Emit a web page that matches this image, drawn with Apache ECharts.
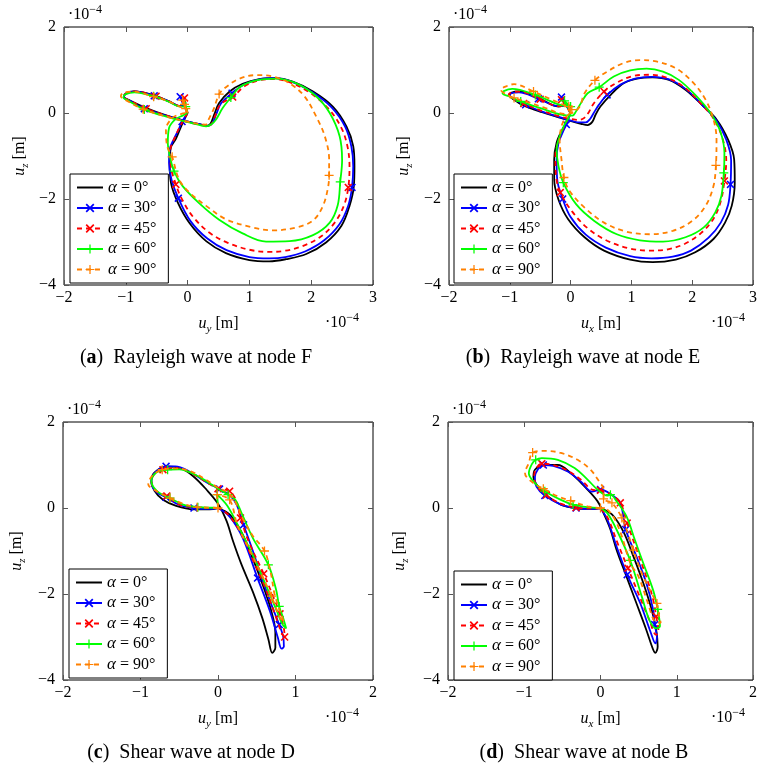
<!DOCTYPE html>
<html><head><meta charset="utf-8">
<script src="https://cdn.jsdelivr.net/npm/echarts@6/dist/echarts.min.js"></script>
<style>html,body{margin:0;padding:0;background:#fff}#c{width:760px;height:771px}</style>
</head><body><div id="c"></div>
<script>
// ---------- data (units of 1e-4 m); third element 1 = marker drawn at that sample ----------
const seriesNames = ['α = 0°', 'α = 30°', 'α = 45°', 'α = 60°', 'α = 90°'];
const xTicksAB = [-2, -1, 0, 1, 2, 3];
const xTicksCD = [-2, -1, 0, 1, 2];
const yTicks = [-4, -2, 0, 2];

// (a) Rayleigh wave at node F
const aBlack = [[0,0],[-0.06,0.2],[-0.1,0.36],[-0.07,0.22],[-0.12,0.16],[-0.3,0.27],[-0.57,0.42],[-0.86,0.5],[-1.0,0.45],[-1.03,0.37],[-0.95,0.3],[-0.68,0.12],[-0.3,-0.08],[-0.03,-0.19],[0.22,-0.27],[0.31,-0.3],[0.37,-0.25],[0.43,-0.04],[0.51,0.23],[0.68,0.5],[0.89,0.68],[1.16,0.79],[1.41,0.81],[1.7,0.73],[2.03,0.5],[2.35,0.15],[2.57,-0.31],[2.68,-0.77],[2.7,-1.23],[2.69,-1.7],[2.62,-2.16],[2.49,-2.62],[2.24,-3.01],[1.92,-3.28],[1.59,-3.4],[1.32,-3.45],[1.0,-3.42],[0.62,-3.26],[0.3,-2.98],[0.03,-2.56],[-0.16,-2.08],[-0.27,-1.62],[-0.29,-1.16],[-0.27,-0.8],[-0.19,-0.6],[-0.13,-0.4],[-0.07,-0.2],[0,0]];
const aBlue = [[0,0],[-0.07,0.2],[-0.12,0.38,1],[-0.08,0.22],[-0.13,0.16],[-0.3,0.27],[-0.54,0.4,1],[-0.86,0.5],[-1.0,0.45],[-1.03,0.37],[-0.95,0.3],[-0.7,0.1,1],[-0.3,-0.08],[-0.03,-0.19],[0.22,-0.27],[0.33,-0.3],[0.4,-0.24],[0.46,-0.04],[0.54,0.22],[0.72,0.46,1],[0.92,0.67],[1.18,0.79],[1.41,0.81],[1.7,0.72],[2.02,0.48],[2.33,0.13],[2.55,-0.32],[2.65,-0.78],[2.68,-1.24],[2.66,-1.73,1],[2.6,-2.15],[2.46,-2.58],[2.21,-2.96],[1.9,-3.22],[1.58,-3.35],[1.32,-3.38],[1.0,-3.35],[0.63,-3.19],[0.32,-2.92],[0.05,-2.52],[-0.15,-1.98,1],[-0.26,-1.55],[-0.3,-1.16],[-0.29,-0.85],[-0.22,-0.6],[-0.15,-0.4],[-0.09,-0.2,1],[0,0]];
const aRed = [[0,0],[-0.03,0.2],[-0.05,0.35,1],[-0.05,0.2],[-0.12,0.16],[-0.3,0.27],[-0.51,0.39,1],[-0.86,0.5],[-1.0,0.45],[-1.04,0.38],[-0.95,0.3],[-0.67,0.1,1],[-0.3,-0.08],[-0.03,-0.2],[0.22,-0.28],[0.33,-0.3],[0.39,-0.25],[0.45,-0.05],[0.53,0.2],[0.73,0.37,1],[0.92,0.62],[1.16,0.76],[1.4,0.79],[1.68,0.7],[1.98,0.47],[2.28,0.1],[2.49,-0.35],[2.59,-0.8],[2.62,-1.25],[2.6,-1.73,1],[2.53,-2.15],[2.38,-2.55],[2.15,-2.88],[1.85,-3.1],[1.55,-3.21],[1.3,-3.23],[1.0,-3.18],[0.65,-3.02],[0.35,-2.78],[0.08,-2.4],[-0.1,-1.98],[-0.19,-1.66,1],[-0.27,-1.25],[-0.28,-0.88],[-0.2,-0.55],[-0.1,-0.25],[0,0]];
const aGreen = [[0,0],[-0.03,0.15,1],[-0.06,0.3],[-0.04,0.18],[-0.12,0.15],[-0.3,0.26],[-0.55,0.39,1],[-0.86,0.48],[-1.0,0.44],[-1.04,0.36],[-0.95,0.28],[-0.7,0.08,1],[-0.3,-0.1],[-0.03,-0.2],[0.2,-0.28],[0.3,-0.31],[0.38,-0.27],[0.46,-0.15],[0.57,0.12],[0.7,0.36,1],[0.84,0.6],[1.11,0.76],[1.43,0.8],[1.76,0.69],[2.08,0.39],[2.3,0],[2.46,-0.54],[2.5,-1.1],[2.47,-1.6,1],[2.43,-2.14],[2.3,-2.55],[2.03,-2.84],[1.65,-2.98],[1.27,-2.99],[0.89,-2.8],[0.51,-2.48],[0.19,-2.1],[-0.08,-1.7],[-0.22,-1.35,1],[-0.28,-1.05],[-0.32,-0.7],[-0.3,-0.35],[-0.2,-0.15],[-0.08,-0.06],[0,0]];
const aOrange = [[0,0],[-0.05,0.2,1],[-0.08,0.3,1],[-0.03,0.1,1],[-0.13,0.15],[-0.3,0.27],[-0.55,0.38,1],[-0.9,0.5],[-1.05,0.46],[-1.08,0.39],[-1.0,0.3],[-0.72,0.09,1],[-0.3,-0.1],[0,-0.2],[0.2,-0.26],[0.29,-0.27],[0.35,-0.12],[0.43,0.12],[0.51,0.44,1],[0.62,0.6],[0.84,0.8],[1.11,0.88],[1.38,0.85],[1.65,0.69],[1.89,0.39],[2.08,-0.08],[2.22,-0.54],[2.29,-1.08],[2.29,-1.45,1],[2.27,-1.75],[2.19,-2.16],[2.03,-2.5],[1.76,-2.66],[1.38,-2.73],[1.05,-2.66],[0.62,-2.47],[0.3,-2.16],[0.03,-1.85],[-0.14,-1.54],[-0.25,-1.02,1],[-0.33,-0.77],[-0.35,-0.39],[-0.25,-0.12],[-0.1,-0.02],[0,0]];

// (b) Rayleigh wave at node E
const bBlack = [[0,0],[-0.08,0.2],[-0.15,0.33],[-0.1,0.2],[-0.2,0.15],[-0.53,0.35],[-0.85,0.5],[-0.98,0.47],[-1.01,0.42],[-0.92,0.3],[-0.8,0.19],[-0.47,0.02],[-0.15,-0.12],[0.01,-0.19],[0.17,-0.25],[0.28,-0.28],[0.36,-0.2],[0.41,-0.04],[0.49,0.15],[0.66,0.42],[0.87,0.69],[1.09,0.8],[1.35,0.83],[1.62,0.77],[1.89,0.54],[2.16,0.19],[2.4,-0.15],[2.59,-0.62],[2.69,-1.08],[2.7,-1.62],[2.65,-2.16],[2.54,-2.55],[2.35,-2.93],[2.05,-3.24],[1.73,-3.41],[1.35,-3.47],[0.98,-3.41],[0.55,-3.2],[0.23,-2.89],[-0.04,-2.47],[-0.2,-2.01],[-0.27,-1.54],[-0.27,-1.08],[-0.23,-0.69],[-0.15,-0.42],[-0.07,-0.23],[0,0]];
const bBlue = [[0,0],[-0.08,0.2],[-0.15,0.37,1],[-0.1,0.2],[-0.2,0.16],[-0.53,0.33,1],[-0.85,0.48],[-0.97,0.46],[-1.0,0.41],[-0.9,0.3],[-0.74,0.19,1],[-0.47,0.03],[-0.15,-0.11],[0.01,-0.18],[0.15,-0.22],[0.25,-0.22],[0.32,-0.14],[0.38,0],[0.47,0.2],[0.6,0.42,1],[0.82,0.66],[1.06,0.8],[1.33,0.84],[1.62,0.78],[1.9,0.55],[2.17,0.18],[2.4,-0.18],[2.56,-0.62],[2.64,-1.1],[2.63,-1.66,1],[2.59,-2.14],[2.47,-2.55],[2.27,-2.9],[1.98,-3.2],[1.68,-3.34],[1.33,-3.38],[0.98,-3.33],[0.58,-3.13],[0.25,-2.83],[0.0,-2.42],[-0.13,-2.0,1],[-0.22,-1.55],[-0.23,-1.08],[-0.2,-0.7],[-0.13,-0.45],[-0.07,-0.27,1],[0,0]];
const bRed = [[0,0],[-0.08,0.18],[-0.15,0.31,1],[-0.08,0.18],[-0.2,0.16],[-0.5,0.32,1],[-0.85,0.5],[-0.99,0.47],[-1.02,0.42],[-0.92,0.32],[-0.77,0.22,1],[-0.47,0.05],[-0.15,-0.09],[0.02,-0.14],[0.14,-0.16],[0.22,-0.12],[0.3,0.02],[0.38,0.22],[0.55,0.5,1],[0.78,0.72],[1.03,0.86],[1.3,0.89],[1.58,0.82],[1.87,0.6],[2.13,0.24],[2.36,-0.15],[2.5,-0.6],[2.56,-1.1],[2.53,-1.58,1],[2.47,-2.05],[2.35,-2.46],[2.14,-2.8],[1.88,-3.04],[1.6,-3.17],[1.3,-3.2],[0.97,-3.15],[0.6,-2.97],[0.28,-2.68],[0.03,-2.3],[-0.17,-1.85,1],[-0.24,-1.45],[-0.25,-1.0],[-0.2,-0.65],[-0.12,-0.35],[-0.05,-0.15],[0,0]];
const bGreen = [[0,0],[-0.05,0.15],[-0.1,0.28,1],[0.0,0.15,1],[-0.2,0.2],[-0.58,0.42,1],[-0.96,0.56],[-1.1,0.51],[-1.12,0.46],[-1.0,0.38],[-0.82,0.27,1],[-0.47,0.1],[-0.15,-0.04],[0.03,-0.06],[0.09,0.04],[0.17,0.23],[0.28,0.46],[0.47,0.6,1],[0.71,0.85],[0.98,0.99],[1.25,1.03],[1.52,0.96],[1.78,0.77],[2.05,0.42],[2.3,0],[2.46,-0.42],[2.53,-0.93],[2.52,-1.39,1],[2.48,-1.93],[2.38,-2.31],[2.19,-2.66],[1.89,-2.89],[1.52,-2.99],[1.14,-2.96],[0.76,-2.82],[0.39,-2.51],[0.09,-2.12],[-0.12,-1.62,1],[-0.2,-1.23],[-0.23,-0.85],[-0.18,-0.54],[-0.1,-0.27],[-0.02,-0.08],[0,0]];
const bOrange = [[0,0],[-0.03,0.15,1],[0.02,0.08,1],[-0.1,0.18],[-0.31,0.31],[-0.61,0.5,1],[-0.93,0.67],[-1.06,0.62],[-1.15,0.54],[-1.08,0.45],[-0.93,0.35,1],[-0.74,0.27],[-0.42,0.12],[-0.1,-0.02],[0.05,0.02],[0.15,0.15],[0.23,0.46],[0.4,0.76,1],[0.6,0.96],[0.87,1.16],[1.14,1.23],[1.41,1.2],[1.73,1.04],[2.0,0.73],[2.22,0.31],[2.35,-0.15],[2.4,-0.62],[2.39,-1.22,1],[2.35,-1.7],[2.22,-2.16],[2.0,-2.51],[1.68,-2.74],[1.3,-2.82],[0.92,-2.76],[0.55,-2.55],[0.23,-2.2],[-0.02,-1.81],[-0.11,-1.5,1],[-0.15,-1.08],[-0.18,-0.62],[-0.15,-0.31],[-0.08,-0.1],[0,0]];

// (c) Shear wave at node D
const cBlack = [[0,0],[-0.11,-0.03],[-0.32,-0.03],[-0.54,0.05],[-0.71,0.19],[-0.82,0.4],[-0.86,0.62],[-0.82,0.82],[-0.67,0.97],[-0.49,0.93],[-0.32,0.74],[-0.15,0.43],[0,0.1],[0.11,-0.3],[0.19,-0.75],[0.3,-1.3],[0.45,-1.95],[0.57,-2.55],[0.65,-3.05],[0.7,-3.37],[0.74,-3.25],[0.74,-2.9],[0.68,-2.35],[0.56,-1.7],[0.42,-1.05],[0.3,-0.55],[0.15,-0.15],[0,0]];
const cBlue = [[0,0],[-0.12,-0.02],[-0.31,0,1],[-0.5,0.07],[-0.67,0.25,1],[-0.8,0.38],[-0.86,0.6],[-0.82,0.81],[-0.67,0.97,1],[-0.55,0.97],[-0.37,0.85],[-0.15,0.6],[0.02,0.44,1],[0.15,0.3],[0.24,0.08],[0.33,-0.39,1],[0.45,-1.0],[0.58,-1.7],[0.7,-2.3],[0.79,-2.71,1],[0.84,-2.98],[0.85,-3.22],[0.82,-3.27],[0.77,-3.0],[0.67,-2.4],[0.51,-1.63,1],[0.32,-0.7],[0.15,-0.2],[0,0]];
const cRed = [[0,0],[-0.12,0],[-0.3,0.02],[-0.5,0.08],[-0.66,0.28,1],[-0.8,0.4],[-0.86,0.62],[-0.8,0.83],[-0.71,0.89,1],[-0.55,0.93],[-0.35,0.82],[-0.15,0.6],[0,0.45,1],[0.15,0.39,1],[0.24,0.15],[0.29,-0.23,1],[0.4,-0.8],[0.59,-1.53,1],[0.71,-2.05],[0.8,-2.46,1],[0.85,-2.8],[0.86,-3.0,1],[0.82,-2.9],[0.75,-2.55],[0.62,-1.9],[0.45,-1.2],[0.3,-0.6],[0.13,-0.15],[0,0]];
const cGreen = [[0,0],[-0.12,0.01],[-0.26,0.02,1],[-0.45,0.08],[-0.62,0.23,1],[-0.78,0.38],[-0.86,0.62],[-0.8,0.82],[-0.65,0.89,1],[-0.5,0.9],[-0.3,0.78],[-0.13,0.6],[0.0,0.45],[0.13,0.31,1],[0.22,0.2],[0.3,-0.1],[0.45,-0.7],[0.65,-1.32,1],[0.75,-1.9],[0.79,-2.29,1],[0.84,-2.55],[0.88,-2.8],[0.83,-2.7],[0.76,-2.4],[0.62,-1.8],[0.45,-1.1],[0.27,-0.45],[0.12,0.05],[-0.01,0.31,1],[0,0]];
const cOrange = [[0,0,1],[-0.12,0.01],[-0.27,0.02,1],[-0.45,0.1],[-0.62,0.23,1],[-0.8,0.4],[-0.9,0.55],[-0.85,0.75],[-0.72,0.89,1],[-0.55,0.92],[-0.35,0.85],[-0.15,0.65],[0.0,0.47],[0.12,0.37],[0.22,0.15],[0.32,-0.25],[0.45,-0.65],[0.6,-1.0,1],[0.68,-1.5],[0.73,-2.0],[0.8,-2.4],[0.85,-2.65],[0.8,-2.55],[0.69,-2.05,1],[0.55,-1.5],[0.4,-0.95],[0.25,-0.4],[0.15,0.19,1],[-0.01,0.31,1],[0,0]];

// (d) Shear wave at node B
const dBlack = [[0,0],[-0.13,-0.02],[-0.34,0],[-0.52,0.08],[-0.69,0.27],[-0.82,0.5],[-0.88,0.72],[-0.86,0.89],[-0.73,1.0],[-0.56,1.0],[-0.39,0.81],[-0.21,0.5],[-0.04,0.16],[0.04,-0.12],[0.13,-0.5],[0.21,-0.97],[0.34,-1.59],[0.47,-2.21],[0.6,-2.83],[0.69,-3.29],[0.72,-3.37],[0.75,-3.22],[0.73,-2.83],[0.67,-2.36],[0.56,-1.74],[0.43,-1.12],[0.3,-0.55],[0.15,-0.15],[0,0]];
const dBlue = [[0,0],[-0.13,-0.02],[-0.32,0,1],[-0.52,0.08],[-0.73,0.29,1],[-0.84,0.5],[-0.86,0.72],[-0.82,0.9],[-0.75,1.0,1],[-0.62,0.98],[-0.43,0.85],[-0.26,0.62],[-0.11,0.38],[0,0.43,1],[0.15,0.3],[0.26,0.12],[0.33,-0.5,1],[0.47,-1.12],[0.6,-1.74],[0.69,-2.36],[0.71,-2.71,1],[0.74,-3.0],[0.72,-3.15],[0.66,-2.9],[0.52,-2.21],[0.35,-1.55,1],[0.21,-0.89],[0.09,-0.27],[0,0]];
const dRed = [[0,0],[-0.13,-0.01],[-0.32,0.01,1],[-0.52,0.1],[-0.71,0.3,1],[-0.84,0.52],[-0.87,0.75],[-0.84,0.93],[-0.77,1.03,1],[-0.62,1.0],[-0.43,0.87],[-0.25,0.65],[-0.1,0.42],[0,0.41,1],[0.15,0.3],[0.26,0.12,1],[0.35,-0.35,1],[0.48,-1.0],[0.62,-1.7],[0.7,-2.2],[0.73,-2.52,1],[0.76,-2.85],[0.73,-2.95],[0.64,-2.6],[0.5,-2.0],[0.36,-1.4,1],[0.22,-0.8],[0.1,-0.25],[0,0]];
const dGreen = [[0,0],[-0.17,0.02],[-0.36,0.08,1],[-0.52,0.19],[-0.73,0.39,1],[-0.86,0.58],[-0.94,0.81],[-0.9,1.02],[-0.85,1.12,1],[-0.77,1.16],[-0.56,1.12],[-0.34,0.93],[-0.17,0.66],[-0.04,0.43],[0.09,0.29],[0.13,0.31,1],[0.21,0.16],[0.34,-0.19],[0.45,-0.74],[0.56,-1.28],[0.69,-1.91],[0.75,-2.36,1],[0.78,-2.75],[0.73,-2.8],[0.64,-2.6],[0.54,-2.05],[0.39,-1.22,1],[0.21,-0.5],[0.09,-0.12],[0,0]];
const dOrange = [[0,0,1],[-0.17,0.04],[-0.39,0.17,1],[-0.56,0.27],[-0.75,0.45,1],[-0.88,0.58],[-0.99,0.81],[-0.94,1.05],[-0.89,1.29,1],[-0.73,1.33],[-0.52,1.28],[-0.3,1.12],[-0.13,0.89],[-0.02,0.62],[0.04,0.43],[0.04,0.21,1],[0.15,0.12,1],[0.28,-0.23,1],[0.36,-0.6],[0.43,-0.98,1],[0.56,-1.59],[0.69,-2.05],[0.74,-2.22,1],[0.77,-2.52],[0.79,-2.67],[0.72,-2.65],[0.62,-2.2],[0.5,-1.6],[0.39,-1.28],[0.28,-0.66],[0.19,-0.27],[0.09,-0.04],[0,0]];

const panelData = [
  [aBlack, aBlue, aRed, aGreen, aOrange],
  [bBlack, bBlue, bRed, bGreen, bOrange],
  [cBlack, cBlue, cRed, cGreen, cOrange],
  [dBlack, dBlue, dRed, dGreen, dOrange]
];
const captions = [['a', 'Rayleigh wave at node F'], ['b', 'Rayleigh wave at node E'], ['c', 'Shear wave at node D'], ['d', 'Shear wave at node B']];
const xLabels = ['y', 'x', 'y', 'x'];

// ---------- styling / layout ----------
const FONT = '"Liberation Serif", "Times New Roman", serif';
const SYM_X = 'path://M0,1.4L1.4,0L5,3.6L8.6,0L10,1.4L6.4,5L10,8.6L8.6,10L5,6.4L1.4,10L0,8.6L3.6,5Z';
const SYM_P = 'path://M4.3,0H5.7V4.3H10V5.7H5.7V10H4.3V5.7H0V4.3H4.3Z';
const styles = [
  { color: '#000000', type: 'solid', symbol: 'circle', size: 1, hideSym: true },
  { color: '#0000ff', type: 'solid', symbol: SYM_X, size: 8 },
  { color: '#ff0000', type: [5, 4], symbol: SYM_X, size: 8 },
  { color: '#00ff00', type: 'solid', symbol: SYM_P, size: 9 },
  { color: '#ff8000', type: [5, 4], symbol: SYM_P, size: 9 }
];
const grids = [
  { left: 64, top: 27, width: 309, height: 258 },
  { left: 449, top: 27, width: 310, height: 258 },
  { left: 63, top: 422, width: 310, height: 258 },
  { left: 448, top: 422, width: 311, height: 258 }
];
const xRanges = [xTicksAB, xTicksAB, xTicksCD, xTicksCD];
const legendPos = [[70, 174], [454, 174], [69, 569], [454, 571]];
const yNameGap = [33, 34, 35, 37];
const capX = [196, 583, 191, 584];

const fmt = v => (v < 0 ? '\u2212' + (-v) : String(v));
const tickStyle = { show: true, inside: true, length: 5, lineStyle: { color: '#555', width: 1 } };
const noLine = { show: false, onZero: false };

const xAxes = [], yAxes = [], series = [], legends = [], graphics = [];
grids.forEach((g, i) => {
  const xt = xRanges[i];
  xAxes.push({
    type: 'value', gridIndex: i, position: 'bottom', min: xt[0], max: xt[xt.length - 1], interval: 1,
    axisLine: noLine, splitLine: { show: false }, axisTick: tickStyle,
    axisLabel: { formatter: fmt, color: '#000', fontFamily: FONT, fontSize: 16, margin: 5 },
    name: '{i|u}{s|' + xLabels[i] + '}{n| [m]}', nameLocation: 'middle', nameGap: 28,
    nameTextStyle: { color: '#000', fontFamily: FONT, fontSize: 15,
      rich: { i: { fontStyle: 'italic', fontFamily: FONT, fontSize: 16, lineHeight: 22, color: '#000' },
              s: { fontStyle: 'italic', fontFamily: FONT, fontSize: 11, lineHeight: 13, verticalAlign: 'bottom', color: '#000' },
              n: { fontFamily: FONT, fontSize: 16, lineHeight: 22, color: '#000' } } }
  });
  xAxes.push({
    type: 'value', gridIndex: i, position: 'top', min: xt[0], max: xt[xt.length - 1], interval: 1,
    axisLine: noLine, splitLine: { show: false }, axisTick: tickStyle, axisLabel: { show: false }
  });
  yAxes.push({
    type: 'value', gridIndex: i, position: 'left', min: yTicks[0], max: yTicks[yTicks.length - 1], interval: 2,
    axisLine: noLine, splitLine: { show: false }, axisTick: tickStyle,
    axisLabel: { formatter: fmt, color: '#000', fontFamily: FONT, fontSize: 16, margin: 8 },
    name: '{i|u}{s|z}{n| [m]}', nameLocation: 'middle', nameGap: yNameGap[i], nameRotate: 90,
    nameTextStyle: { color: '#000', fontFamily: FONT, fontSize: 15,
      rich: { i: { fontStyle: 'italic', fontFamily: FONT, fontSize: 16, lineHeight: 22, color: '#000' },
              s: { fontStyle: 'italic', fontFamily: FONT, fontSize: 11, lineHeight: 13, verticalAlign: 'bottom', color: '#000' },
              n: { fontFamily: FONT, fontSize: 16, lineHeight: 22, color: '#000' } } }
  });
  yAxes.push({
    type: 'value', gridIndex: i, position: 'right', min: yTicks[0], max: yTicks[yTicks.length - 1], interval: 2,
    axisLine: noLine, splitLine: { show: false }, axisTick: tickStyle, axisLabel: { show: false }
  });

  panelData[i].forEach((pts, k) => {
    const st = styles[k];
    series.push({
      type: 'line', name: seriesNames[k], xAxisIndex: 2 * i, yAxisIndex: 2 * i,
      data: pts.map(p => (p[2] && !st.hideSym) ? { value: [p[0], p[1]] } : { value: [p[0], p[1]], symbol: 'none' }),
      symbol: st.symbol, symbolSize: st.size, showSymbol: true, smooth: 0.35,
      lineStyle: { color: st.color, width: 1.8, type: st.type },
      itemStyle: { color: st.hideSym ? 'rgba(0,0,0,0)' : st.color, borderWidth: 0 },
      z: 2 + k, animation: false, silent: true
    });
  });

  legends.push({
    orient: 'vertical', left: legendPos[i][0], top: legendPos[i][1],
    data: seriesNames, selectedMode: false,
    itemWidth: 26, itemHeight: 11, itemGap: 3.5,
    padding: [5, 12, 5, 6],
    backgroundColor: '#fff', borderColor: '#000', borderWidth: 1, borderRadius: 0,
    formatter: n => '{i|α}{t|' + n.slice(1) + '}',
    textStyle: { color: '#000', fontFamily: FONT, fontSize: 16, lineHeight: 16,
      rich: { i: { fontStyle: 'italic', fontFamily: FONT, fontSize: 17, lineHeight: 16, color: '#000' },
              t: { fontFamily: FONT, fontSize: 16, lineHeight: 16, color: '#000' } } },
    z: 10
  });

  const sup = (x, y) => ({
    type: 'text', x: x, y: y, z: 20, silent: true,
    style: { text: '{n|·10}{p|\u22124}', align: 'left', verticalAlign: 'middle', fill: '#000',
      rich: { n: { fontFamily: FONT, fontSize: 16, lineHeight: 22, fill: '#000' },
              p: { fontFamily: FONT, fontSize: 12, lineHeight: 13, verticalAlign: 'top', fill: '#000' } } }
  });
  graphics.push(sup(g.left + 4, g.top - 12));
  graphics.push(sup(g.left + g.width - 48, g.top + g.height + 38));
  graphics.push({
    type: 'text', x: capX[i], y: g.top + g.height + 73, z: 20, silent: true,
    style: { text: '({b|' + captions[i][0] + '})  ' + captions[i][1], align: 'center', verticalAlign: 'middle',
      fill: '#000', font: '20px ' + FONT,
      rich: { b: { fontFamily: FONT, fontSize: 20, fontWeight: 'bold', fill: '#000' } } }
  });
});

const chart = echarts.init(document.getElementById('c'), null, { renderer: 'canvas' });
chart.setOption({
  backgroundColor: '#fff',
  animation: false,
  grid: grids.map(g => Object.assign({ show: true, borderColor: '#000', borderWidth: 1, backgroundColor: 'transparent' }, g)),
  xAxis: xAxes, yAxis: yAxes, series: series, legend: legends, graphic: graphics
});
</script></body></html>
